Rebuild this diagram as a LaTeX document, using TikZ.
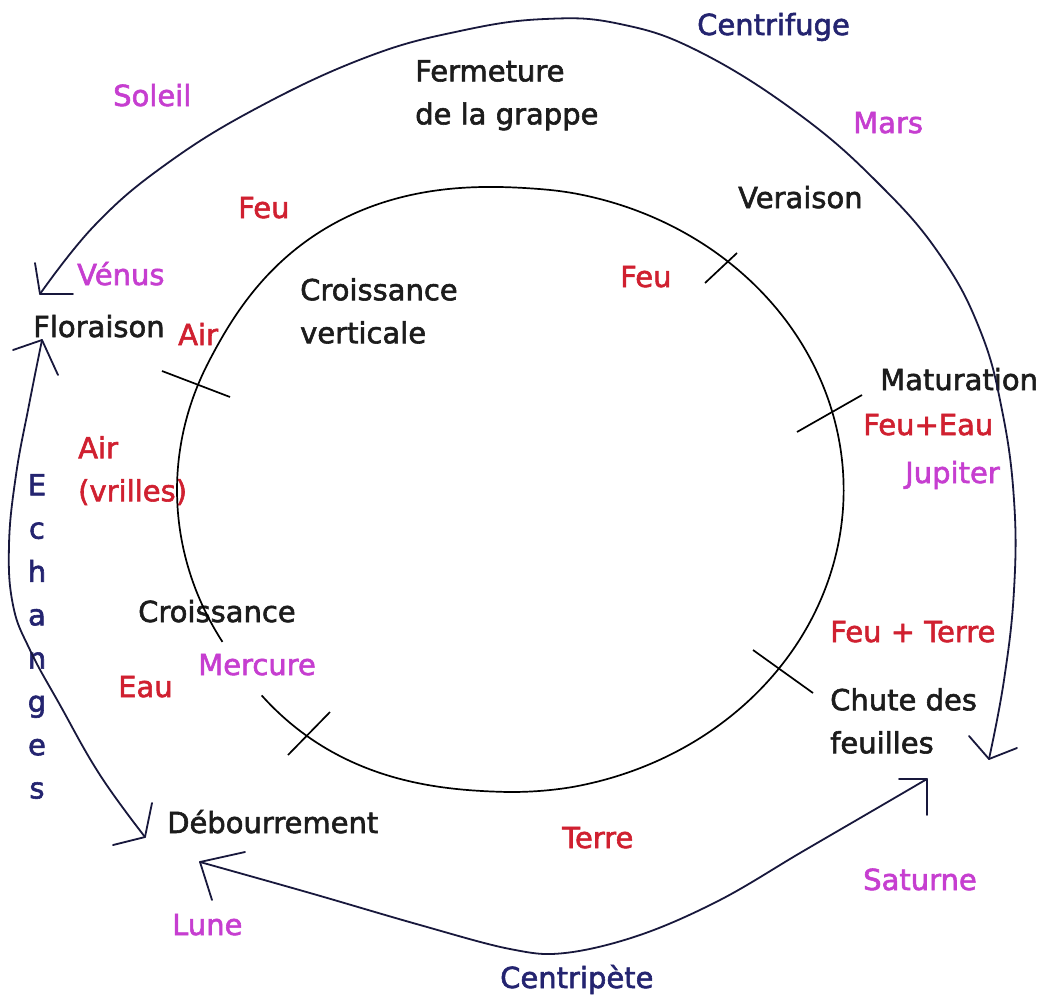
\documentclass[tikz,border=0pt]{standalone}
\usepackage{fontspec}
\setmainfont[FakeBold=2]{DejaVu Sans}
\usetikzlibrary{calc}
\definecolor{ink}{RGB}{28,28,28}
\definecolor{elemred}{RGB}{208,32,48}
\definecolor{planetmag}{RGB}{198,62,208}
\definecolor{navy}{RGB}{36,36,112}
\definecolor{linecol}{RGB}{24,24,60}
\begin{document}
\begin{tikzpicture}[x=1pt,y=-1pt,
  lbl/.style={inner sep=0pt, anchor=base west, font=\fontsize{29}{43}\selectfont},
  ml/.style={inner sep=0pt, anchor=north west, align=left, font=\fontsize{29}{43}\selectfont},
  phase/.style={text=ink},
  elem/.style={text=elemred},
  planet/.style={text=planetmag},
  flow/.style={text=navy},
  curve/.style={draw=linecol, line width=1.8pt, line join=round, line cap=round},
  ring/.style={draw=black, line width=1.7pt, line join=round},
  tickline/.style={draw=black, line width=1.7pt}]

\useasboundingbox[fill=white] (0,0) rectangle (1044,996);

% ---------- labels ----------
\node[lbl,flow] (centrifuge) at (697,35) {Centrifuge};
\node[lbl,planet] (soleil) at (113,106) {Soleil};
\node[ml,phase] (fermeture) at (415,60) {Fermeture\\de la grappe};
\node[lbl,planet] (mars) at (853,133) {Mars};
\node[lbl,elem] (feuA) at (238,218) {Feu};
\node[lbl,phase] (veraison) at (738,208) {Veraison};
\node[lbl,planet] (venus) at (77,285) {Vénus};
\node[lbl,elem] (feuB) at (620,287) {Feu};
\node[ml,phase] (croisvert) at (300,278) {Croissance\\verticale};
\node[lbl,phase] (floraison) at (33,337) {Floraison};
\node[lbl,elem] (airA) at (178,345) {Air};
\node[lbl,phase] (maturation) at (880,390) {Maturation};
\node[lbl,elem] (feueau) at (863,435) {Feu+Eau};
\node[lbl,planet] (jupiter) at (905,483) {Jupiter};
\node[ml,elem] (airB) at (78,436) {Air\\(vrilles)};
\node[lbl,phase] (croissance) at (138,622) {Croissance};
\node[lbl,elem] (feuterre) at (830,642) {Feu + Terre};
\node[lbl,planet] (mercure) at (198,675) {Mercure};
\node[lbl,elem] (eau) at (118,697) {Eau};
\node[ml,phase] (chute) at (830,688) {Chute des\\feuilles};
\node[lbl,phase] (debourrement) at (167,833) {Débourrement};
\node[lbl,elem] (terre) at (562,848) {Terre};
\node[lbl,planet] (saturne) at (863,890) {Saturne};
\node[lbl,planet] (lune) at (172,935) {Lune};
\node[lbl,flow] (centripete) at (500,988) {Centripète};
\node[inner sep=0pt, anchor=north, align=center, flow, font=\fontsize{29}{43.3}\selectfont] (echanges) at (37,474) {E\\c\\h\\a\\n\\g\\e\\s};

% ---------- inner cycle (hand-drawn ellipse, open behind "Mercure") ----------
\draw[ring] plot[domain=149.8:497.7, samples=240, smooth]
  ({512+335*(1+0.03*max(0,1-((\x-240)/35)^2)^2+0.02*max(0,1-((\x-482)/30)^2)^2-0.01*max(0,1-((\x-360)/80)^2))*cos(\x)},
   {490+302*(1+0.03*max(0,1-((\x-240)/35)^2)^2+0.02*max(0,1-((\x-482)/30)^2)^2-0.01*max(0,1-((\x-360)/80)^2))*sin(\x)});

% ---------- ticks ----------
\coordinate (t1a) at (162,371); \coordinate (t1b) at (230,397);
\coordinate (t2a) at (705,283); \coordinate (t2b) at (737,253);
\coordinate (t3a) at (797,432); \coordinate (t3b) at (862,395);
\coordinate (t4a) at (753,650); \coordinate (t4b) at (813,693);
\coordinate (t5a) at (288,755); \coordinate (t5b) at (330,712);
\draw[tickline] (t1a) -- (t1b);
\draw[tickline] (t2a) -- (t2b);
\draw[tickline] (t3a) -- (t3b);
\draw[tickline] (t4a) -- (t4b);
\draw[tickline] (t5a) -- (t5b);

% ---------- centrifuge arc ----------
\coordinate (cfA) at (989,759);
\coordinate (cfB) at (40,294);
\draw[curve] plot[smooth, tension=0.7] coordinates {
  (cfA) (1004,680) (1014,590) (1014,500) (1002,410) (980,330) (940,255)
  (880,185) (800,115) (700,52) (620,24) (545,19) (460,31) (367,57)
  (257,108) (165,165) (95,225) (cfB)};
\draw[curve] ($(cfB)+(-5,-31)$) -- (cfB) -- ($(cfB)+(33,0)$);
\draw[curve] ($(cfA)+(-20,-23)$) -- (cfA) -- ($(cfA)+(28,-11)$);

% ---------- centripete arc ----------
\coordinate (cpA) at (927,779);
\coordinate (cpB) at (200,862);
\draw[curve] plot[smooth, tension=0.6] coordinates {
  (cpA) (867,814) (800,853) (720,900) (640,935) (565,953) (510,949)
  (420,925) (310,893) (cpB)};
\draw[curve] ($(cpA)+(-28,0)$) -- (cpA) -- ($(cpA)+(0,36)$);
\draw[curve] ($(cpB)+(45,-10)$) -- (cpB) -- ($(cpB)+(12,38)$);

% ---------- echanges arc ----------
\coordinate (exA) at (42,340);
\coordinate (exB) at (145,837);
\draw[curve] plot[smooth, tension=0.7] coordinates {
  (exA) (29,405) (16,475) (9,545) (13,605) (30,650) (60,705) (100,775) (exB)};
\draw[curve] ($(exA)+(-29,10)$) -- (exA) -- ($(exA)+(16,35)$);
\draw[curve] ($(exB)+(7,-34)$) -- (exB) -- ($(exB)+(-32,8)$);

\end{tikzpicture}
\end{document}
